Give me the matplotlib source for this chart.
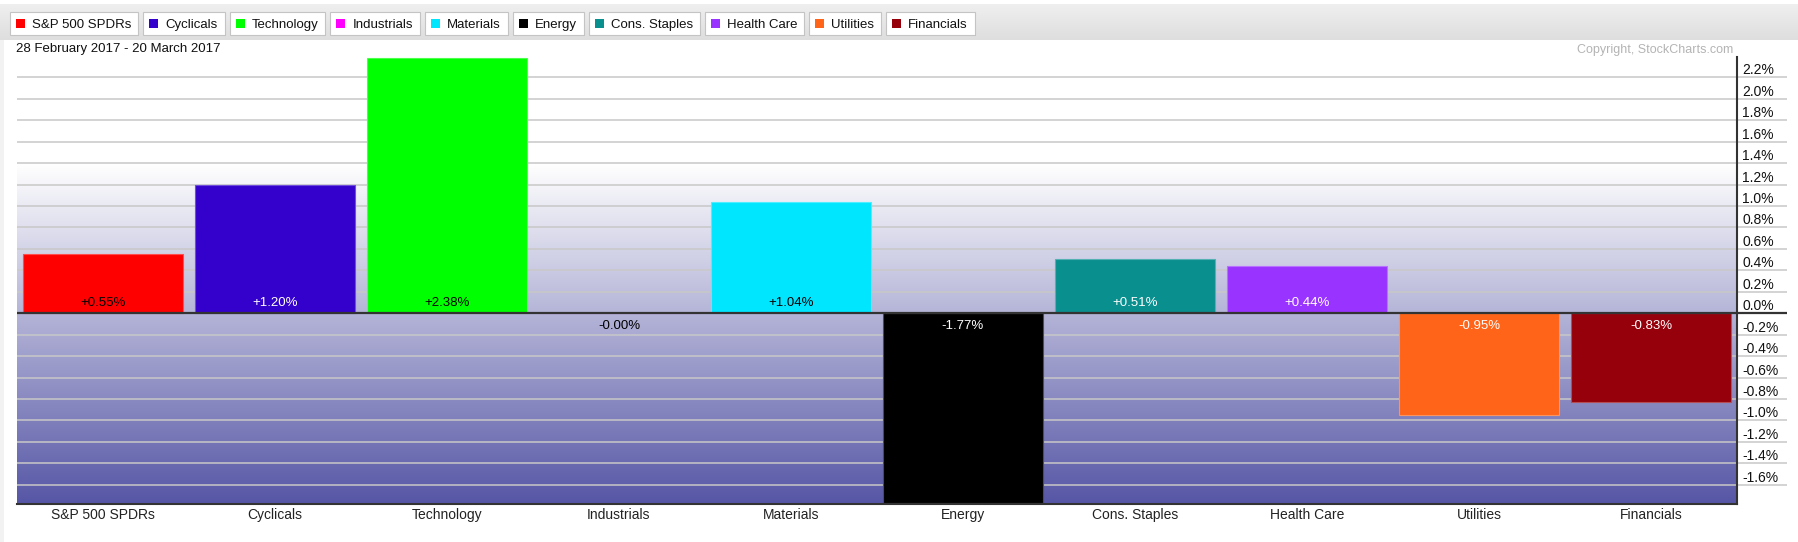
import numpy as np
import matplotlib
matplotlib.use("Agg")
import matplotlib.pyplot as plt
from matplotlib.patches import Rectangle
from matplotlib.transforms import IdentityTransform
from matplotlib.colors import to_rgb

plt.rcParams['font.family'] = ['Liberation Sans', 'DejaVu Sans']

# ---------------- data ----------------
categories = ["S&P 500 SPDRs", "Cyclicals", "Technology", "Industrials", "Materials",
              "Energy", "Cons. Staples", "Health Care", "Utilities", "Financials"]
values = [0.55, 1.20, 2.38, -0.0, 1.04, -1.77, 0.51, 0.44, -0.95, -0.83]
colors = ["#ff0000", "#3300cc", "#00ff00", "#ff00ff", "#00e6ff",
          "#000000", "#0a8f8f", "#9933ff", "#ff6419", "#95000a"]
label_colors = ["black", "white", "black", "black", "black",
                "white", "white", "white", "white", "white"]
yticks = [-1.6, -1.4, -1.2, -1.0, -0.8, -0.6, -0.4, -0.2, 0.0, 0.2, 0.4, 0.6,
          0.8, 1.0, 1.2, 1.4, 1.6, 1.8, 2.0, 2.2]
date_range = "28 February 2017 - 20 March 2017"
copyright_text = "Copyright, StockCharts.com"

# ---------------- layout ----------------
W, H = 1799, 542
DPI = 100
fig = plt.figure(figsize=(W / DPI, H / DPI), dpi=DPI, facecolor="white")

def fx(x):
    return x / W

def fy(y):  # y measured from top in pixels
    return 1 - y / H

ax_l, ax_r, ax_t, ax_b = 17, 1737, 57, 504
ax = fig.add_axes([fx(ax_l), fy(ax_b), (ax_r - ax_l) / W, (ax_b - ax_t) / H])

ymin, ymax = -1.78, 2.39
ax.set_xlim(-0.5, len(categories) - 0.5)
ax.set_ylim(ymin, ymax)

# background gradient (white above 1.4%, darkening to blue-purple at bottom)
grad_top = 1.4
top_c = np.array([1.0, 1.0, 1.0])
bot_c = np.array(to_rgb("#5656a6"))
n = 256
t = np.linspace(0, 1, n)[:, None]  # 0 at bottom, 1 at top
grad = bot_c[None, :] * (1 - t) + top_c[None, :] * t
grad = grad[::-1][:, None, :]
ax.imshow(grad, extent=[-0.5, len(categories) - 0.5, ymin, grad_top],
          aspect="auto", zorder=0, interpolation="bilinear")

# gridlines extending to the right of the axis
ytr = ax.get_yaxis_transform()
for yv in yticks:
    if abs(yv) < 1e-9:
        continue
    ax.plot([0, 1.029], [yv, yv], transform=ytr, color="#c8c8c8", lw=1.1,
            zorder=1, clip_on=False, solid_capstyle="butt")
    ax.text(1.003, yv, f"{yv:.1f}%", transform=ytr, ha="left", va="bottom",
            fontsize=10, color="#111111")
ax.text(1.003, 0.0, "0.0%", transform=ytr, ha="left", va="bottom",
        fontsize=10, color="#111111")

# bars
x = np.arange(len(categories))
edge_cols = [tuple(0.7 * np.array(to_rgb(c)) + 0.3) for c in colors]
ax.bar(x, values, width=0.93, color=colors, edgecolor=edge_cols, linewidth=0.8,
       zorder=2)

# zero line
ax.plot([0, 1.029], [0, 0], transform=ytr, color="#333333", lw=1.6, zorder=3,
        clip_on=False, solid_capstyle="butt")

# value labels
for xi, v, lc in zip(x, values, label_colors):
    neg = np.signbit(v)
    off = -9.4 if neg else 7.2
    ax.annotate(f"{v:+.2f}%", (xi, 0), xytext=(0, off), textcoords="offset points",
                ha="center", va="center", fontsize=9.5, color=lc, zorder=4)

# spines
for s in ["top", "left"]:
    ax.spines[s].set_visible(False)
for s in ["right", "bottom"]:
    ax.spines[s].set_color("#333333")
    ax.spines[s].set_linewidth(1.5)
ax.set_yticks([])
ax.set_xticks(x)
ax.set_xticklabels(categories, fontsize=10, color="#222222")
ax.tick_params(axis="x", length=0, pad=3)

# ---------------- header / legend ----------------
hdr = fig.add_axes([0, fy(40), 1, (40 - 4) / H])
hdr.set_axis_off()
hg = np.linspace(0, 1, 64)[:, None]
c1 = np.array(to_rgb("#efefef"))
c2 = np.array(to_rgb("#dedede"))
hgrad = (c1[None, :] * (1 - hg) + c2[None, :] * hg)[:, None, :]
hdr.imshow(hgrad, extent=[0, 1, 0, 1], aspect="auto", interpolation="bilinear")
hdr.set_xlim(0, 1)
hdr.set_ylim(0, 1)

fig.patches.append(Rectangle((0, 0), fx(4), fy(40), transform=fig.transFigure,
                             facecolor="#f2f2f2", edgecolor="none", zorder=-1))

fig.canvas.draw()
renderer = fig.canvas.get_renderer()
idt = IdentityTransform()
bx = 10
btn_top, btn_bot = 12, 35
cy = H - (btn_top + btn_bot) / 2
for name, col in zip(categories, colors):
    txt = fig.text(0, 0, name, fontsize=9.5, color="#111111", va="center_baseline",
                   ha="left")
    tw = txt.get_window_extent(renderer).width
    bw = 6 + 9 + 7 + tw + 7
    # shadow
    fig.patches.append(Rectangle((bx + 1, H - btn_bot - 1), bw, btn_bot - btn_top,
                                 transform=idt, facecolor="#8a8a8a", edgecolor="none"))
    fig.patches.append(Rectangle((bx, H - btn_bot), bw, btn_bot - btn_top,
                                 transform=idt, facecolor="white", edgecolor="#c4c4c4",
                                 linewidth=0.8))
    fig.patches.append(Rectangle((bx + 6, cy - 4.5), 9, 9, transform=idt,
                                 facecolor=col, edgecolor="none"))
    txt.set_transform(idt)
    txt.set_position((bx + 6 + 9 + 7, cy))
    txt.set_zorder(5)
    bx += bw + 5

fig.text(fx(16), fy(49), date_range, fontsize=9.5, color="#111111", ha="left", va="center")
fig.text(fx(1733), fy(50), copyright_text, fontsize=9, color="#b4b4b4", ha="right", va="center")

fig.savefig("out.png", dpi=DPI, facecolor="white")
